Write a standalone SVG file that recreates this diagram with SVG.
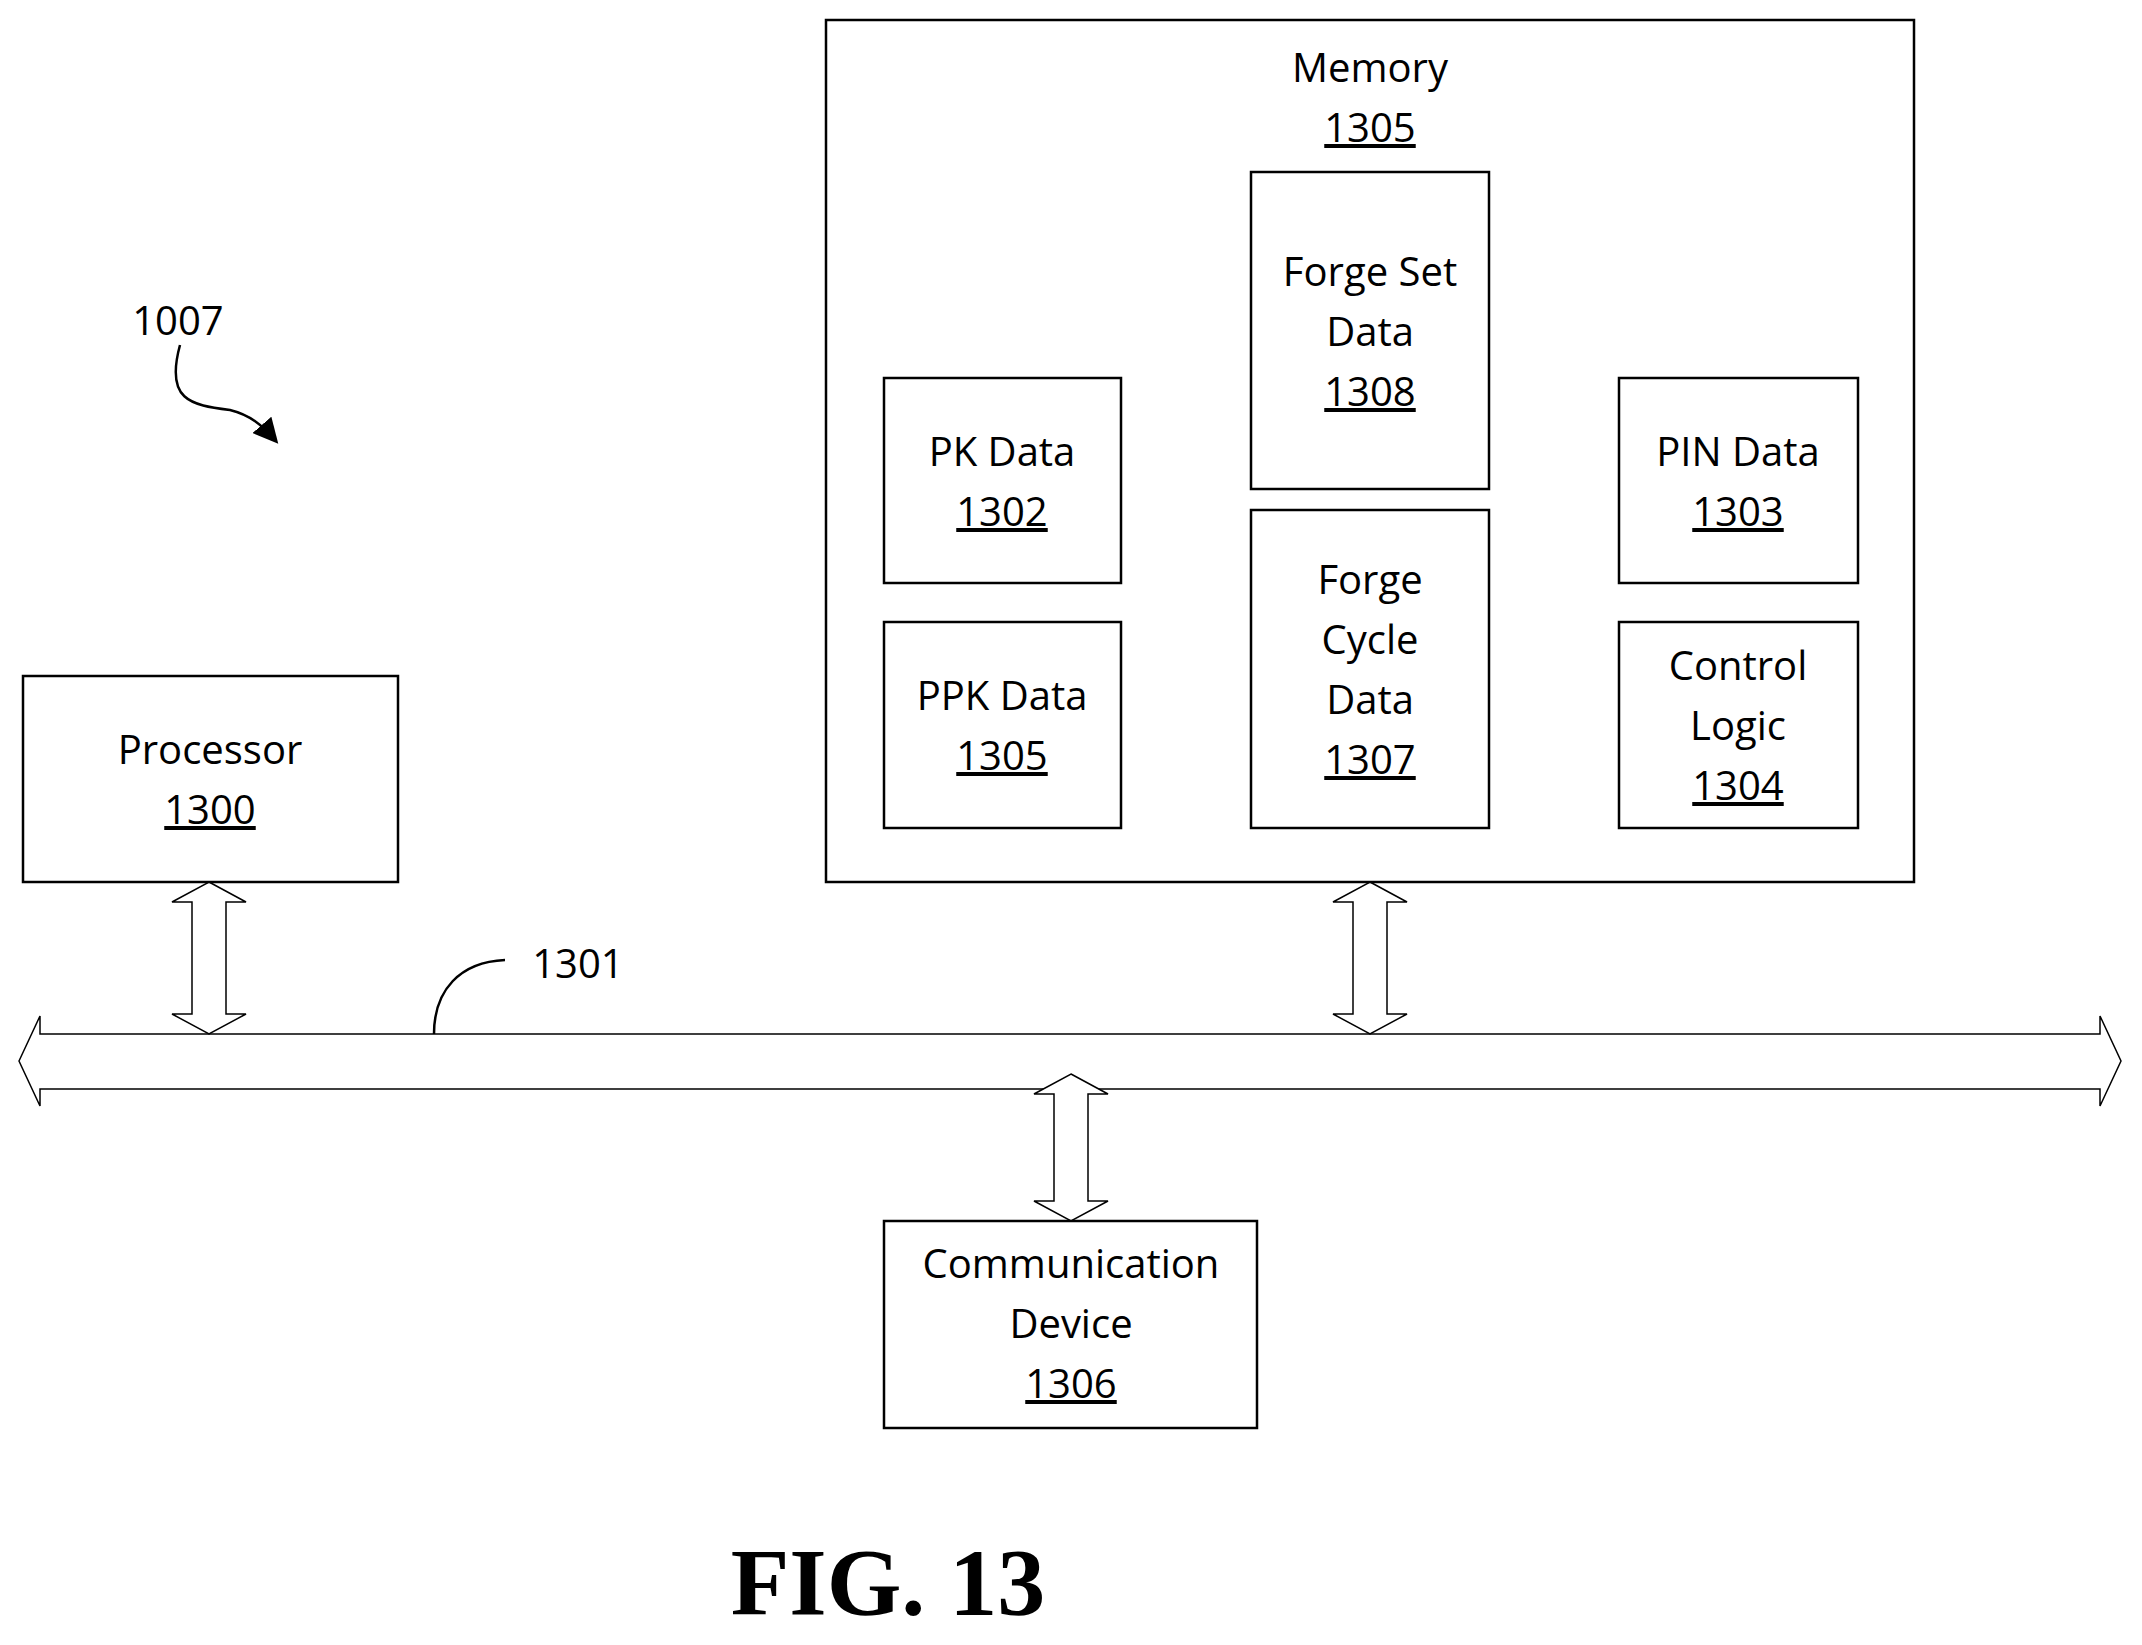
<svg xmlns="http://www.w3.org/2000/svg" width="2142" height="1645" viewBox="0 0 2142 1645">
<style>
.b{fill:#fff;stroke:#000;stroke-width:2.5}
.t{font-family:"Open Sans","Liberation Sans",sans-serif;font-size:40px;text-anchor:middle;fill:#000}
.u{text-decoration:underline}
.a{fill:#fff;stroke:#000;stroke-width:1.5}
.l{fill:none;stroke:#000;stroke-width:2.5}
</style>
<defs><marker id="m" markerWidth="10" markerHeight="10" refX="8" refY="5" orient="auto" markerUnits="strokeWidth"><path d="M0,0L10,5L0,10z"/></marker></defs>
<rect width="2142" height="1645" fill="#fff"/>
<g id="connectors">
<path class="a" d="M19,1061 L40,1016 L40,1034 L2100,1034 L2100,1016 L2121,1061 L2100,1106 L2100,1089 L40,1089 L40,1106 Z"/>
<path class="a" d="M209,882 L246,902 L226,902 L226,1014 L246,1014 L209,1034 L172,1014 L192,1014 L192,902 L172,902 Z"/>
<path class="a" d="M1370,882 L1407,902 L1387,902 L1387,1014 L1407,1014 L1370,1034 L1333,1014 L1353,1014 L1353,902 L1333,902 Z"/>
<path class="a" d="M1071,1074 L1108,1094 L1088,1094 L1088,1201 L1108,1201 L1071,1221 L1034,1201 L1054,1201 L1054,1094 L1034,1094 Z"/>
<path class="l" d="M434,1034 C434,990 460,962 505,960"/>
<path class="l" marker-end="url(#m)" d="M180,345 C165,400 190,405 230,410 C250,415 262,425 275,440"/>
</g>
<text class="t" x="178" x2="" y="335">1007</text>
<text class="t" x="578" y="978">1301</text>
<g id="memory"><rect class="b" x="826" y="20" width="1088" height="862"/>
<text class="t" x="1370" y="82">Memory</text><text class="t u" x="1370" y="142">1305</text></g>
<g id="forgeset"><rect class="b" x="1251" y="172" width="238" height="317"/>
<text class="t" x="1370" y="286">Forge Set</text><text class="t" x="1370" y="346">Data</text><text class="t u" x="1370" y="406">1308</text></g>
<g id="pk"><rect class="b" x="884" y="378" width="237" height="205"/>
<text class="t" x="1002" y="466">PK Data</text><text class="t u" x="1002" y="526">1302</text></g>
<g id="ppk"><rect class="b" x="884" y="622" width="237" height="206"/>
<text class="t" x="1002" y="710">PPK Data</text><text class="t u" x="1002" y="770">1305</text></g>
<g id="forgecycle"><rect class="b" x="1251" y="510" width="238" height="318"/>
<text class="t" x="1370" y="594">Forge</text><text class="t" x="1370" y="654">Cycle</text><text class="t" x="1370" y="714">Data</text><text class="t u" x="1370" y="774">1307</text></g>
<g id="pin"><rect class="b" x="1619" y="378" width="239" height="205"/>
<text class="t" x="1738" y="466">PIN Data</text><text class="t u" x="1738" y="526">1303</text></g>
<g id="control"><rect class="b" x="1619" y="622" width="239" height="206"/>
<text class="t" x="1738" y="680">Control</text><text class="t" x="1738" y="740">Logic</text><text class="t u" x="1738" y="800">1304</text></g>
<g id="processor"><rect class="b" x="23" y="676" width="375" height="206"/>
<text class="t" x="210" y="764">Processor</text><text class="t u" x="210" y="824">1300</text></g>
<g id="comm"><rect class="b" x="884" y="1221" width="373" height="207"/>
<text class="t" x="1071" y="1278">Communication</text><text class="t" x="1071" y="1338">Device</text><text class="t u" x="1071" y="1398">1306</text></g>
<text x="888" y="1615" style="font-family:'Liberation Serif',serif;font-weight:bold;font-size:96px" text-anchor="middle">FIG. 13</text>
</svg>
